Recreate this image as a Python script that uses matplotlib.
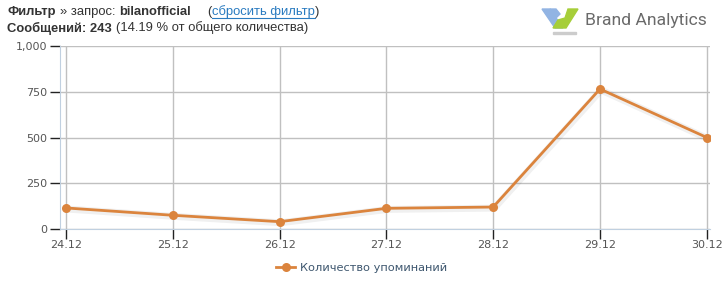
import matplotlib
matplotlib.use("Agg")
import matplotlib.pyplot as plt
from matplotlib.patches import Polygon

dates = ["24.12", "25.12", "26.12", "27.12", "28.12", "29.12", "30.12"]
mentions = [115, 75, 40, 113, 120, 765, 500]
y_ticks = [0, 250, 500, 750, 1000]
y_labels = ["0", "250", "500", "750", "1,000"]

W, H = 726, 281
ORANGE = "#DB843D"
LINK = "#2A7BC0"

def px(x, y):
  # pixel coords (from top-left) -> figure fraction
  return x / W, 1 - y / H

fig = plt.figure(figsize=(W / 100, H / 100), dpi=100)
fig.patch.set_facecolor("white")

left, right, top, bottom = 60, 710, 46, 229
ax = fig.add_axes([left / W, 1 - bottom / H, (right - left) / W, (bottom - top) / H])

xs = list(range(len(dates)))
# soft shadow under the line
ax.plot([x + 0.01 for x in xs], [v - 6 for v in mentions], color="#000000", alpha=0.06, lw=5,
        solid_capstyle="round", zorder=2)
ax.plot(xs, mentions, color=ORANGE, lw=2, marker="o", markersize=6.5, markeredgewidth=0,
        zorder=3, label="Количество упоминаний")

ax.set_xlim(-0.056, 6.03)
ax.set_ylim(0, 1000)
ax.set_xticks(xs)
ax.set_xticklabels(dates)
ax.set_yticks(y_ticks)
ax.set_yticklabels(y_labels)
ax.grid(True, color="#C0C0C0", lw=1)
ax.set_axisbelow(True)
for s in ["top", "right"]:
  ax.spines[s].set_visible(False)
ax.spines["left"].set_color("#C0D0E0")
ax.spines["bottom"].set_color("#C0D0E0")
ax.tick_params(axis="both", colors="#222222", length=7, width=1, labelsize=8, labelcolor="#555555")
ax.tick_params(axis="y", pad=2)
ax.tick_params(axis="x", pad=1)
for lab in ax.get_xticklabels() + ax.get_yticklabels():
  lab.set_family("DejaVu Sans")

leg = fig.legend(loc="center", bbox_to_anchor=px(362, 268), frameon=False, handlelength=1.6,
                 handletextpad=0.5, prop={"family": "DejaVu Sans", "size": 8.2})
for t in leg.get_texts():
  t.set_color("#3E576F")

# header: pieces laid out one after another
renderer = fig.canvas.get_renderer()

def text_row(x, y, pieces):
  for s, gap, kw in pieces:
    x += gap
    t = fig.text(*px(x, y), s, family="Liberation Sans", size=9.4, va="center",
                 color=kw.pop("color", "#333333"), **kw)
    bb = t.get_window_extent(renderer)
    if s.startswith("сбросить"):
      fig.add_artist(plt.Line2D([bb.x0 / W, bb.x1 / W], [px(0, y + 6)[1]] * 2, color=LINK, lw=0.8))
    x += bb.width

text_row(7, 12, [("Фильтр", 0, {"weight": "bold"}),
                 ("» запрос:", 4, {}),
                 ("bilanofficial", 4, {"weight": "bold"}),
                 ("(", 17, {}),
                 ("сбросить фильтр", 0, {"color": LINK}),
                 (")", 0, {})])
text_row(7, 28, [("Сообщений: 243", 0, {"weight": "bold"}),
                 ("(14.19 % от общего количества)", 4, {})])

# logo
fig.add_artist(Polygon([px(542, 9), px(550, 9), px(563, 28), px(555, 28)],
                       closed=True, color="#92B4E3"))
fig.add_artist(Polygon([px(550, 9), px(556, 9), px(560, 14), px(556, 18), px(553, 14)],
                       closed=True, color="#92B4E3"))
fig.add_artist(Polygon([px(568, 9), px(578, 9), px(566, 28), px(553, 28), px(558, 20), px(565, 18)],
                       closed=True, color="#A6CE39"))
fig.add_artist(Polygon([px(553, 32), px(576, 32), px(576, 34), px(553, 34)],
                       closed=True, color="#CCCCCC"))
fig.text(*px(585, 21), "Brand Analytics", family="Roboto", size=12.6,
         color="#6A6A6A", va="center")

fig.savefig("out.png", dpi=100)
